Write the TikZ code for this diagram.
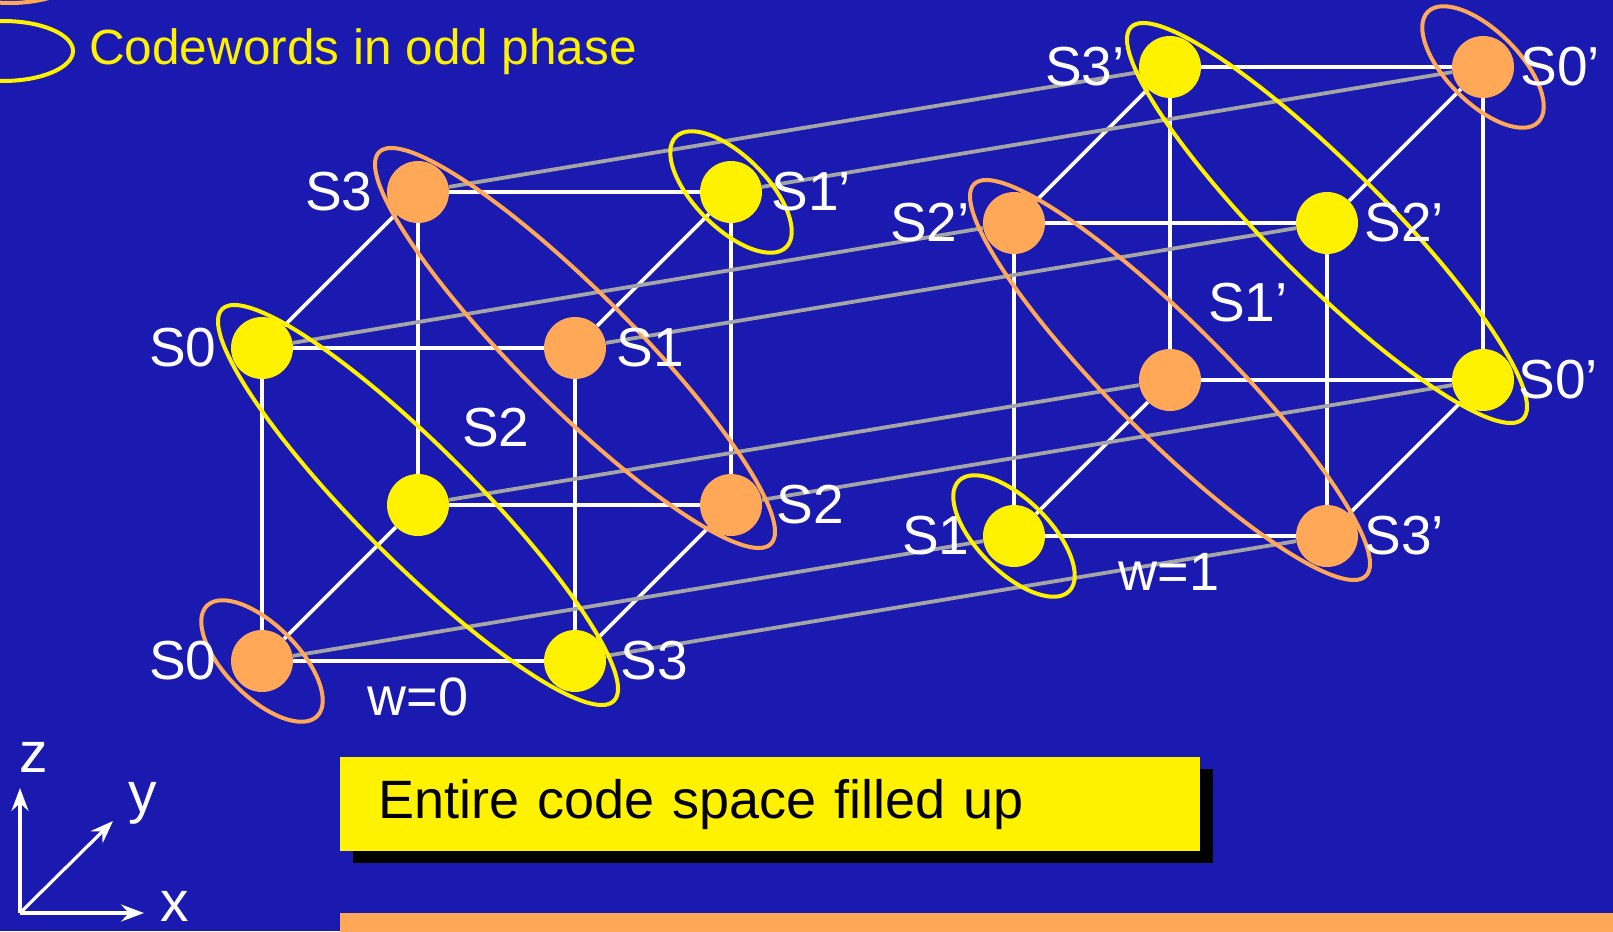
\documentclass[tikz,border=0pt]{standalone}
\usepackage{fontspec}
\setmainfont{Liberation Sans}
\usepackage{tikz}
\usetikzlibrary{arrows.meta,shadows}

\definecolor{bgblue}{RGB}{26,26,176}
\definecolor{orng}{RGB}{255,168,88}
\definecolor{wiregray}{RGB}{165,165,165}

\pgfdeclarelayer{bg}
\pgfdeclarelayer{wires}
\pgfsetlayers{bg,wires,main}

\newcommand{\bigfont}{\fontsize{55pt}{60pt}\selectfont}
\newcommand{\notefont}{\fontsize{54pt}{60pt}\selectfont}
\newcommand{\legfont}{\fontsize{49.5pt}{56pt}\selectfont}
\newcommand{\wfont}{\fontsize{54pt}{60pt}\selectfont}
\newcommand{\axfont}{\fontsize{57pt}{62pt}\selectfont}

\begin{document}
\begin{tikzpicture}
[   x=1pt, y=-1pt,
    vtx/.style={circle, inner sep=0pt, minimum size=62pt},
    lbl/.style={text=white, font=\bigfont, inner sep=0pt, anchor=center},
    cubeedge/.style={draw=white, line width=3.8pt},
    wire/.style={draw=wiregray, line width=3.8pt},
    ring/.style={line width=4pt},
    axarrow/.style={draw=white, line width=3.2pt, -{Stealth[length=23pt,width=17pt,inset=8pt]}},
]

\begin{pgfonlayer}{bg}
    \fill[bgblue] (0,0) rectangle (1613,931);
\end{pgfonlayer}
\useasboundingbox (0,0) rectangle (1613,931);

% cube w=0
\foreach \i/\j/\k/\col/\ang/\dist/\txt in {0/0/0/orng/180/48/S0, 1/0/0/yellow/0/48/S3, 0/0/1/yellow/180/48/S0, 1/0/1/orng/0/44/S1, 0/1/0/yellow/45/79/S2, 1/1/0/orng/0/48/S2, 0/1/1/orng/180/48/S3, 1/1/1/yellow/0/49/S1’}
{
    \node[vtx, fill=\col, label={[lbl, label distance=\dist pt]\ang:\txt}] (L\i\j\k) at ({262+313*\i+156*\j},{661-156*\j-313*\k}) {};
}

% cube w=1
\foreach \i/\j/\k/\col/\ang/\dist/\txt in {0/0/0/yellow/180/47/S1, 1/0/0/orng/0/46/S3’, 0/0/1/orng/180/53/S2’, 1/0/1/yellow/0/46/S2’, 0/1/0/orng/45/79/S1’, 1/1/0/yellow/0/44/S0’, 0/1/1/yellow/180/54/S3’, 1/1/1/orng/0/46/S0’}
{
    \node[vtx, fill=\col, label={[lbl, label distance=\dist pt]\ang:\txt}] (R\i\j\k) at ({1014+313*\i+156*\j},{536-156*\j-313*\k}) {};
}

\begin{pgfonlayer}{wires}
    \foreach \c in {L,R}
        \foreach \a/\b in {000/100, 010/110, 001/101, 011/111, 000/010, 100/110, 001/011, 101/111, 000/001, 100/101, 010/011, 110/111}
            \draw[cubeedge] (\c\a) -- (\c\b);

    \foreach \v in {000,100,010,110,001,101,011,111}
        \draw[wire] (L\v) -- (R\v);

    % groups of codewords
    \draw[ring, yellow] (L010) ellipse [x radius=277pt, y radius=57pt, rotate=-45];
    \draw[ring, orng]   (L101) ellipse [x radius=277pt, y radius=57pt, rotate=-45];
    \draw[ring, orng]   (L000) ellipse [x radius=78pt, y radius=36pt, rotate=-45];
    \draw[ring, yellow] (L111) ellipse [x radius=78pt, y radius=36pt, rotate=-45];
    \draw[ring, yellow] (R101) ellipse [x radius=277pt, y radius=57pt, rotate=-45];
    \draw[ring, orng]   (R010) ellipse [x radius=277pt, y radius=57pt, rotate=-45];
    \draw[ring, yellow] (R000) ellipse [x radius=78pt, y radius=36pt, rotate=-45];
    \draw[ring, orng]   (R111) ellipse [x radius=78pt, y radius=36pt, rotate=-45];
\end{pgfonlayer}

\node[lbl, font=\wfont] (w0) at (418,697) {w=0};
\node[lbl, font=\wfont] (w1) at (1169,572) {w=1};

% legend
\begin{scope}
    \clip (0,0) rectangle (1613,931);
    \draw[ring, orng] (10,-27) ellipse [x radius=70pt, y radius=30pt];
    \draw[ring, yellow] (3,51) ellipse [x radius=70pt, y radius=30pt];
    \fill[orng] (340,913) rectangle (1613,935);
\end{scope}
\node[text=yellow, font=\legfont, inner sep=0pt, anchor=base west] (legend) at (89,65) {Codewords in odd phase};

\node[fill=yellow, anchor=north west, inner xsep=38pt, inner ysep=0pt, text width=784pt, minimum height=94pt, align=left, font=\notefont,
      drop shadow={shadow xshift=13pt, shadow yshift=-12pt, fill=black, opacity=1}] (note) at (340,757) {Entire code space filled up};

% axes
\coordinate (org) at (20,913);
\coordinate (ztip) at (20,788);
\coordinate (ytip) at (113,821);
\coordinate (xtip) at (144,913);
\draw[axarrow] (org) -- (ztip);
\draw[axarrow] (org) -- (ytip);
\draw[axarrow] (org) -- (xtip);
\node[lbl, font=\axfont] (zlab) at (34,757) {z};
\node[lbl, font=\axfont] (ylab) at (143,803) {y};
\node[lbl, font=\axfont] (xlab) at (175,906) {x};

\end{tikzpicture}
\end{document}
